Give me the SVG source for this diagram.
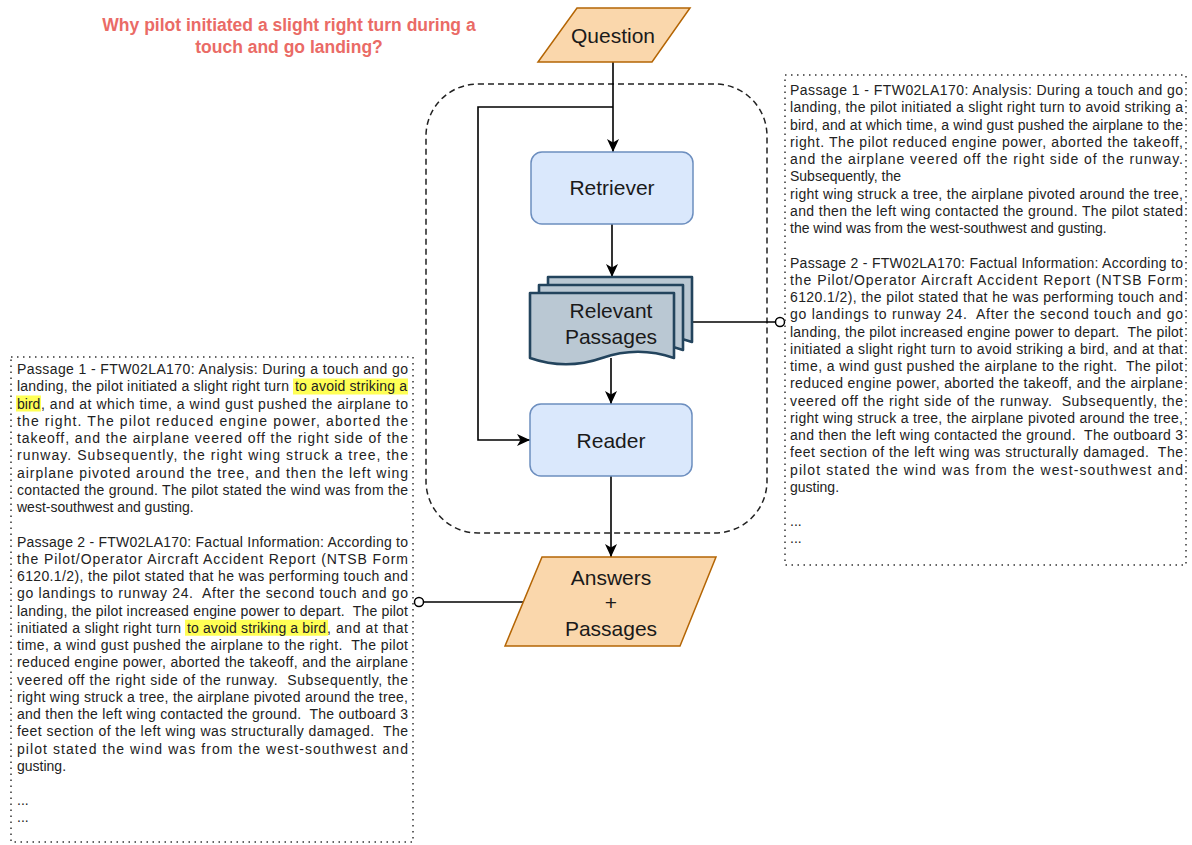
<svg xmlns="http://www.w3.org/2000/svg" width="1192" height="845" viewBox="0 0 1192 845">
<defs>
<style>
.lbl{font-family:"Liberation Sans",Arial,sans-serif;font-size:21px;fill:#1a1a1a;text-anchor:middle}
.p{font-family:"Liberation Sans",Arial,sans-serif;font-size:14px;fill:#222;white-space:pre}
.hl{fill:#ffff55}
.box{fill:none;stroke:#333;stroke-width:1.5;stroke-dasharray:1.5 4.5}
.conn{fill:none;stroke:#000;stroke-width:1.6}
.doc{fill:#bac8d3;stroke:#23445d;stroke-width:2.6;stroke-linejoin:round}
.io{fill:#fad7ac;stroke:#b46504;stroke-width:1.5}
.proc{fill:#dae8fc;stroke:#6c8ebf;stroke-width:1.5}
.dot{fill:#fff;stroke:#000;stroke-width:1.5}
</style>
<marker id="ah" markerWidth="13" markerHeight="12" viewBox="0 0 13 12" refX="13" refY="6" orient="auto" markerUnits="userSpaceOnUse">
<path d="M0,0 L13,6 L0,12 L3.5,6 Z" fill="#000"/>
</marker>
</defs>
<rect width="1192" height="845" fill="#fff"/>

<g id="question-text">
<text x="289" y="31" style="font-family:'Liberation Sans',Arial,sans-serif;font-size:17.5px;font-weight:bold;fill:#ea6b66" text-anchor="middle">Why pilot initiated a slight right turn during a</text>
<text x="289" y="53" style="font-family:'Liberation Sans',Arial,sans-serif;font-size:17.5px;font-weight:bold;fill:#ea6b66" text-anchor="middle">touch and go landing?</text>
</g>

<g id="container">
<rect x="426" y="84" width="341" height="449" rx="52" fill="none" stroke="#222" stroke-width="1.5" stroke-dasharray="6 4"/>
</g>

<g id="connectors">
<path class="conn" d="M613,62 L613,152" marker-end="url(#ah)"/>
<path class="conn" d="M613,107 L478,107 L478,440 L530,440" marker-end="url(#ah)"/>
<path class="conn" d="M612,224 L612,277" marker-end="url(#ah)"/>
<path class="conn" d="M611,358 L611,404" marker-end="url(#ah)"/>
<path class="conn" d="M611,476 L611,557" marker-end="url(#ah)"/>
<path class="conn" d="M692,322 L775.5,322"/>
<circle class="dot" cx="780" cy="322" r="4.5"/>
<path class="conn" d="M523,602 L423.5,602"/>
<circle class="dot" cx="419" cy="602" r="4.5"/>
</g>

<g id="question">
<polygon class="io" points="577,8 690,8 652,62 538,62"/>
<text class="lbl" x="613" y="43">Question</text>
</g>

<g id="retriever">
<rect class="proc" x="531" y="152" width="162" height="72" rx="11"/>
<text class="lbl" x="612" y="195">Retriever</text>
</g>

<g id="relevant-passages">
<path class="doc" d="M548,277 H692 V342 Q656,329.4 620,342 Q584,354.6 548,342 Z"/>
<path class="doc" d="M539,285 H683 V350 Q647,337.4 611,350 Q575,362.6 539,350 Z"/>
<path class="doc" d="M530,293 H674 V358 Q638,345.4 602,358 Q566,370.6 530,358 Z"/>
<text class="lbl" x="611" y="318">Relevant</text>
<text class="lbl" x="611" y="344">Passages</text>
</g>

<g id="reader">
<rect class="proc" x="530" y="404" width="162" height="72" rx="11"/>
<text class="lbl" x="611" y="448">Reader</text>
</g>

<g id="answers">
<polygon class="io" points="542,557 716,557 680,646 505,646"/>
<text class="lbl" x="611" y="585">Answers</text>
<text class="lbl" x="611" y="610">+</text>
<text class="lbl" x="611" y="636">Passages</text>
</g>

<g id="passages-right">
<rect class="box" x="785" y="75" width="401" height="490"/>
<text class="p" x="790" y="95" textLength="393" lengthAdjust="spacing">Passage 1 - FTW02LA170: Analysis: During a touch and go</text>
<text class="p" x="790" y="112.25" textLength="393" lengthAdjust="spacing">landing, the pilot initiated a slight right turn to avoid striking a</text>
<text class="p" x="790" y="129.5" textLength="393" lengthAdjust="spacing">bird, and at which time, a wind gust pushed the airplane to the</text>
<text class="p" x="790" y="146.75" textLength="393" lengthAdjust="spacing">right. The pilot reduced engine power, aborted the takeoff,</text>
<text class="p" x="790" y="164" textLength="393" lengthAdjust="spacing">and the airplane veered off the right side of the runway.</text>
<text class="p" x="790" y="181.25">Subsequently, the</text>
<text class="p" x="790" y="198.5" textLength="393" lengthAdjust="spacing">right wing struck a tree, the airplane pivoted around the tree,</text>
<text class="p" x="790" y="215.75" textLength="393" lengthAdjust="spacing">and then the left wing contacted the ground. The pilot stated</text>
<text class="p" x="790" y="233">the wind was from the west-southwest and gusting.</text>
<text class="p" x="790" y="267.5" textLength="393" lengthAdjust="spacing">Passage 2 - FTW02LA170: Factual Information: According to</text>
<text class="p" x="790" y="284.75" textLength="393" lengthAdjust="spacing">the Pilot/Operator Aircraft Accident Report (NTSB Form</text>
<text class="p" x="790" y="302" textLength="393" lengthAdjust="spacing">6120.1/2), the pilot stated that he was performing touch and</text>
<text class="p" x="790" y="319.25" textLength="393" lengthAdjust="spacing">go landings to runway 24.  After the second touch and go</text>
<text class="p" x="790" y="336.5" textLength="393" lengthAdjust="spacing">landing, the pilot increased engine power to depart.  The pilot</text>
<text class="p" x="790" y="353.75" textLength="393" lengthAdjust="spacing">initiated a slight right turn to avoid striking a bird, and at that</text>
<text class="p" x="790" y="371" textLength="393" lengthAdjust="spacing">time, a wind gust pushed the airplane to the right.  The pilot</text>
<text class="p" x="790" y="388.25" textLength="393" lengthAdjust="spacing">reduced engine power, aborted the takeoff, and the airplane</text>
<text class="p" x="790" y="405.5" textLength="393" lengthAdjust="spacing">veered off the right side of the runway.  Subsequently, the</text>
<text class="p" x="790" y="422.75" textLength="393" lengthAdjust="spacing">right wing struck a tree, the airplane pivoted around the tree,</text>
<text class="p" x="790" y="440" textLength="393" lengthAdjust="spacing">and then the left wing contacted the ground.  The outboard 3</text>
<text class="p" x="790" y="457.25" textLength="393" lengthAdjust="spacing">feet section of the left wing was structurally damaged.  The</text>
<text class="p" x="790" y="474.5" textLength="393" lengthAdjust="spacing">pilot stated the wind was from the west-southwest and</text>
<text class="p" x="790" y="491.75">gusting.</text>
<text class="p" x="790" y="526">...</text>
<text class="p" x="790" y="543.25">...</text>
</g>

<g id="passages-left">
<rect class="box" x="11" y="357" width="402" height="485"/>
<rect class="hl" x="293" y="378.5" width="115" height="16"/>
<rect class="hl" x="16" y="395.5" width="25" height="16"/>
<rect class="hl" x="185" y="619.75" width="143" height="16"/>
<text class="p" x="17" y="374" textLength="391" lengthAdjust="spacing">Passage 1 - FTW02LA170: Analysis: During a touch and go</text>
<text class="p" x="17" y="391.25" textLength="272" lengthAdjust="spacing">landing, the pilot initiated a slight right turn</text>
<text class="p" x="295" y="391.25" textLength="112" lengthAdjust="spacing">to avoid striking a</text>
<text class="p" x="17" y="408.5">bird</text>
<text class="p" x="41" y="408.5" textLength="367" lengthAdjust="spacing">, and at which time, a wind gust pushed the airplane to</text>
<text class="p" x="17" y="425.75" textLength="391" lengthAdjust="spacing">the right. The pilot reduced engine power, aborted the</text>
<text class="p" x="17" y="443" textLength="391" lengthAdjust="spacing">takeoff, and the airplane veered off the right side of the</text>
<text class="p" x="17" y="460.25" textLength="391" lengthAdjust="spacing">runway. Subsequently, the right wing struck a tree, the</text>
<text class="p" x="17" y="477.5" textLength="391" lengthAdjust="spacing">airplane pivoted around the tree, and then the left wing</text>
<text class="p" x="17" y="494.75" textLength="391" lengthAdjust="spacing">contacted the ground. The pilot stated the wind was from the</text>
<text class="p" x="17" y="512">west-southwest and gusting.</text>
<text class="p" x="17" y="546.5" textLength="391" lengthAdjust="spacing">Passage 2 - FTW02LA170: Factual Information: According to</text>
<text class="p" x="17" y="563.75" textLength="391" lengthAdjust="spacing">the Pilot/Operator Aircraft Accident Report (NTSB Form</text>
<text class="p" x="17" y="581" textLength="391" lengthAdjust="spacing">6120.1/2), the pilot stated that he was performing touch and</text>
<text class="p" x="17" y="598.25" textLength="391" lengthAdjust="spacing">go landings to runway 24.  After the second touch and go</text>
<text class="p" x="17" y="615.5" textLength="391" lengthAdjust="spacing">landing, the pilot increased engine power to depart.  The pilot</text>
<text class="p" x="17" y="632.75" textLength="164" lengthAdjust="spacing">initiated a slight right turn</text>
<text class="p" x="187" y="632.75" textLength="139" lengthAdjust="spacing">to avoid striking a bird</text>
<text class="p" x="327" y="632.75" textLength="81" lengthAdjust="spacing">, and at that</text>
<text class="p" x="17" y="650" textLength="391" lengthAdjust="spacing">time, a wind gust pushed the airplane to the right.  The pilot</text>
<text class="p" x="17" y="667.25" textLength="391" lengthAdjust="spacing">reduced engine power, aborted the takeoff, and the airplane</text>
<text class="p" x="17" y="684.5" textLength="391" lengthAdjust="spacing">veered off the right side of the runway.  Subsequently, the</text>
<text class="p" x="17" y="701.75" textLength="391" lengthAdjust="spacing">right wing struck a tree, the airplane pivoted around the tree,</text>
<text class="p" x="17" y="719" textLength="391" lengthAdjust="spacing">and then the left wing contacted the ground.  The outboard 3</text>
<text class="p" x="17" y="736.25" textLength="391" lengthAdjust="spacing">feet section of the left wing was structurally damaged.  The</text>
<text class="p" x="17" y="753.5" textLength="391" lengthAdjust="spacing">pilot stated the wind was from the west-southwest and</text>
<text class="p" x="17" y="770.75">gusting.</text>
<text class="p" x="17" y="805">...</text>
<text class="p" x="17" y="822.25">...</text>
</g>
</svg>
